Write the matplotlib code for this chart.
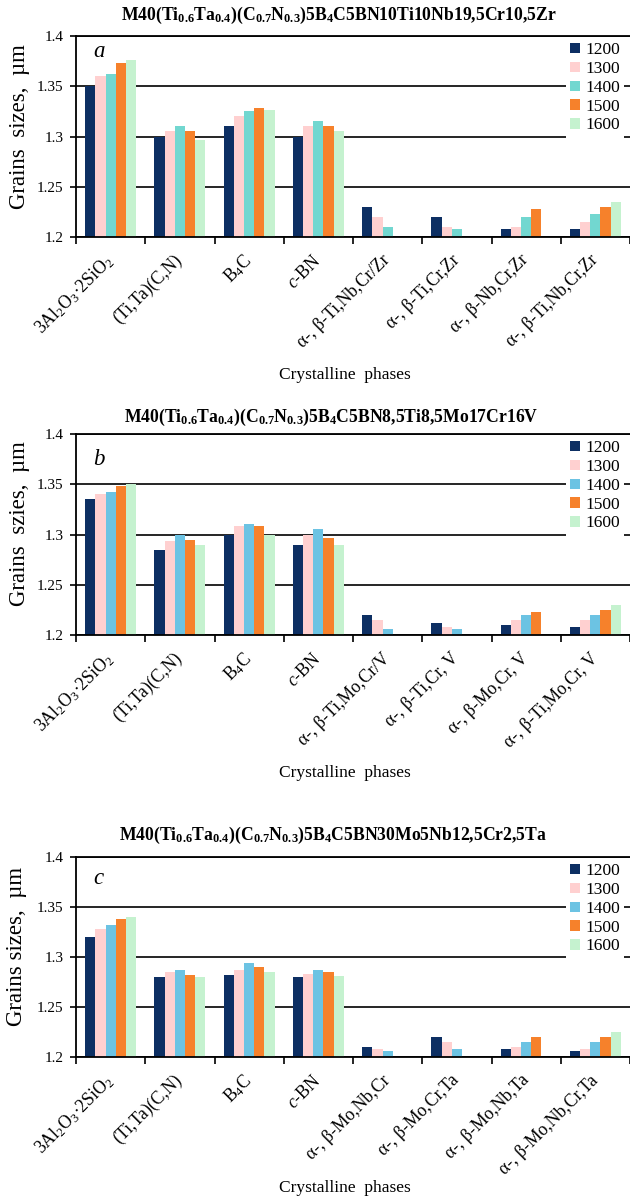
import numpy as np
import matplotlib
matplotlib.use("Agg")
import matplotlib.pyplot as plt
from matplotlib.ticker import FixedLocator, NullFormatter

plt.rcParams["font.family"] = ["Liberation Serif", "DejaVu Serif"]
plt.rcParams["mathtext.fontset"] = "custom"
plt.rcParams["mathtext.rm"] = "Liberation Serif"
plt.rcParams["mathtext.it"] = "Liberation Serif:italic"
plt.rcParams["mathtext.bf"] = "Liberation Serif:bold"

W, H = 630, 1204

temps = ["1200", "1300", "1400", "1500", "1600"]

phases_a = [r"3Al$_{\mathrm{2}}$O$_{\mathrm{3}}$·2SiO$_{\mathrm{2}}$", "(Ti,Ta)(C,N)",
            r"B$_{\mathrm{4}}$C", r"$c$-BN",
            "α-, β-Ti,Nb,Cr/Zr", "α-, β-Ti,Cr,Zr", "α-, β-Nb,Cr,Zr", "α-, β-Ti,Nb,Cr,Zr"]
phases_b = phases_a[:4] + ["α-, β-Ti,Mo,Cr/V", "α-, β-Ti,Cr, V", "α-, β-Mo,Cr, V", "α-, β-Ti,Mo,Cr, V"]
phases_c = phases_a[:4] + ["α-, β-Mo,Nb,Cr", "α-, β-Mo,Cr,Ta", "α-, β-Mo,Nb,Ta", "α-, β-Mo,Nb,Cr,Ta"]

# rows = temperatures 1200..1600, columns = phases
sizes_a = [[1.350, 1.300, 1.310, 1.300, 1.230, 1.220, 1.208, 1.208],
           [1.360, 1.305, 1.320, 1.310, 1.220, 1.210, 1.210, 1.215],
           [1.362, 1.310, 1.325, 1.315, 1.210, 1.208, 1.220, 1.223],
           [1.373, 1.305, 1.328, 1.310, 1.200, 1.200, 1.228, 1.230],
           [1.376, 1.297, 1.326, 1.305, 1.200, 1.200, 1.200, 1.235]]
sizes_b = [[1.335, 1.285, 1.300, 1.290, 1.220, 1.212, 1.210, 1.208],
           [1.340, 1.294, 1.308, 1.300, 1.215, 1.208, 1.215, 1.215],
           [1.342, 1.300, 1.310, 1.305, 1.206, 1.206, 1.220, 1.220],
           [1.348, 1.295, 1.308, 1.297, 1.200, 1.200, 1.223, 1.225],
           [1.350, 1.290, 1.300, 1.290, 1.200, 1.200, 1.200, 1.230]]
sizes_c = [[1.320, 1.280, 1.282, 1.280, 1.210, 1.220, 1.208, 1.206],
           [1.328, 1.285, 1.287, 1.283, 1.208, 1.215, 1.210, 1.208],
           [1.332, 1.287, 1.294, 1.287, 1.206, 1.208, 1.215, 1.215],
           [1.338, 1.282, 1.290, 1.285, 1.200, 1.200, 1.220, 1.220],
           [1.340, 1.280, 1.285, 1.281, 1.200, 1.200, 1.200, 1.225]]

yticks = [1.2, 1.25, 1.3, 1.35, 1.4]
ytick_labels = ["1.2", "1.25", "1.3", "1.35", "1.4"]

colors_a = ["#0d2f63", "#ffd0d0", "#72d7d0", "#f6812b", "#c5f2cf"]
colors_bc = ["#0d2f63", "#ffd0d0", "#6cc3e3", "#f6812b", "#c5f2cf"]

title_a = r"M40(Ti$_{\mathbf{0.6}}$Ta$_{\mathbf{0.4}}$)(C$_{\mathbf{0.7}}$N$_{\mathbf{0.3}}$)5B$_{\mathbf{4}}$C5BN10Ti10Nb19,5Cr10,5Zr"
title_b = r"M40(Ti$_{\mathbf{0.6}}$Ta$_{\mathbf{0.4}}$)(C$_{\mathbf{0.7}}$N$_{\mathbf{0.3}}$)5B$_{\mathbf{4}}$C5BN8,5Ti8,5Mo17Cr16V"
title_c = r"M40(Ti$_{\mathbf{0.6}}$Ta$_{\mathbf{0.4}}$)(C$_{\mathbf{0.7}}$N$_{\mathbf{0.3}}$)5B$_{\mathbf{4}}$C5BN30Mo5Nb12,5Cr2,5Ta"

fig = plt.figure(figsize=(W / 100, H / 100), dpi=100, facecolor="white")


def fx(px):
    return px / W


def fy(py):
    return 1 - py / H


def draw_panel(top, bottom, sizes, phases, colors, title, ylabel, letter, pos):
    ax = fig.add_axes([fx(76), fy(bottom), fx(630) - fx(76), fy(top) - fy(bottom)])
    x = np.arange(len(phases))
    bw = 0.148
    for i, t in enumerate(temps):
        ax.bar(x + (i - 2) * bw, sizes[i], width=bw, color=colors[i], label=t, linewidth=0, zorder=2)
    ax.set_xlim(-0.5, len(phases) - 0.5)
    ax.set_ylim(1.2, 1.4)
    ax.set_yticks(yticks)
    ax.set_yticklabels(ytick_labels, fontsize=11)
    ax.yaxis.grid(True, color="black", linewidth=1.2, zorder=1)
    ax.set_axisbelow(True)
    ax.set_xticks(x)
    ax.set_xticklabels(phases, rotation=45, ha="right", va="center", rotation_mode="anchor", fontsize=12.8)
    ax.xaxis.set_minor_locator(FixedLocator(np.arange(len(phases) + 1) - 0.5))
    ax.xaxis.set_minor_formatter(NullFormatter())
    ax.tick_params(axis="x", which="major", length=0, pad=15)
    ax.tick_params(axis="x", which="minor", length=5, width=1.2, direction="out")
    ax.tick_params(axis="y", length=4, width=1.2, direction="out", pad=5)
    for s in ["left", "bottom", "top"]:
        ax.spines[s].set_linewidth(1.3)
        ax.spines[s].set_color("black")
    ax.spines["right"].set_visible(False)

    leg = ax.legend(loc="upper left", bbox_to_anchor=(fx(566), fy(pos["leg"])), bbox_transform=fig.transFigure,
                    fontsize=12.5, frameon=True, fancybox=False, edgecolor="none", framealpha=1,
                    handlelength=0.55, handleheight=0.55, handletextpad=0.3, labelspacing=0.16,
                    borderpad=0.25, borderaxespad=0)
    leg.set_zorder(5)

    fig.text(fx(pos["tx"]), fy(pos["ty"]), title, ha="center", va="center", fontsize=12.7, fontweight="bold")
    fig.text(fx(pos["ylx"]), fy(pos["yly"]), ylabel, ha="center", va="center", rotation=90, fontsize=16.5)
    fig.text(fx(pos["xlx"]), fy(pos["xly"]), "Crystalline  phases", ha="center", va="center", fontsize=12.5)
    fig.text(fx(93), fy(pos["lb"]), letter, ha="left", va="baseline", fontsize=16.5, style="italic")
    return ax


draw_panel(36, 237, sizes_a, phases_a, colors_a, title_a, "Grains  sizes,  µm", "a",
           dict(leg=38, tx=339, ty=15, ylx=20, yly=127, xlx=345, xly=375, lb=57))
draw_panel(434, 635, sizes_b, phases_b, colors_bc, title_b, "Grains  szies,  µm", "b",
           dict(leg=436, tx=331, ty=417, ylx=20, yly=524, xlx=345, xly=773, lb=465))
draw_panel(857, 1057, sizes_c, phases_c, colors_bc, title_c, "Grains sizes,  µm", "c",
           dict(leg=859, tx=333, ty=835, ylx=17, yly=946, xlx=345, xly=1188, lb=884))

fig.savefig("out.png", dpi=100, facecolor="white")
